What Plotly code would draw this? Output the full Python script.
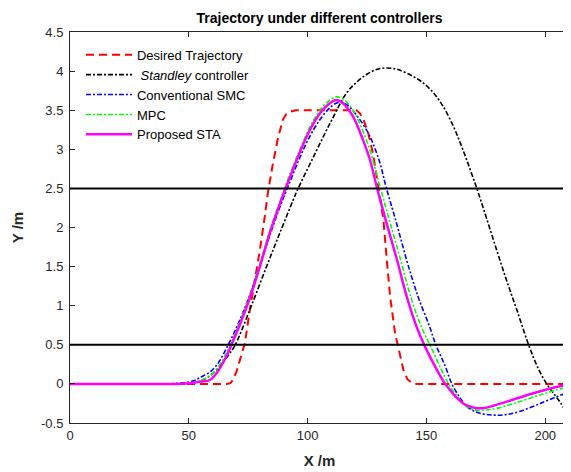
import plotly.graph_objects as go

# desired trajectory
x_ref = [0, 66, 67.5, 68.5, 70, 71.5, 73.6, 75.7, 77.8, 79.9, 82.0, 83.3, 85.4, 87.5, 89.6, 91, 92.5, 95,
         120.5, 122, 123.5, 125.4, 127.5, 129.2, 130.5, 131.9, 133.3, 134.7, 136.8, 138.2, 140.3, 142, 144, 146, 210]
y_ref = [0, 0, 0.01, 0.05, 0.15, 0.3, 0.52, 0.95, 1.32, 1.71, 2.15, 2.45, 2.82, 3.14, 3.38, 3.45, 3.48, 3.5,
         3.5, 3.46, 3.38, 3.22, 2.95, 2.6, 2.35, 2.1, 1.59, 1.12, 0.65, 0.45, 0.18, 0.06, 0.01, 0, 0]

# Standley controller
x_stan = [0, 48, 52, 56, 60, 64, 67, 69.4, 75.7, 82.7, 88.3, 93.9, 95.4, 102.4, 109.4, 116.4, 120.7, 125, 129,
          133.3, 138, 144.5, 149, 153, 157, 161.4, 164, 167, 171.2, 175.5, 180, 184, 188, 193, 197, 200.8,
          203.5, 206.4, 210]
y_stan = [0, 0, 0.01, 0.05, 0.13, 0.26, 0.38, 0.49, 0.95, 1.5, 1.93, 2.35, 2.46, 2.9, 3.33, 3.72, 3.86, 3.96, 4.02,
          4.04, 4.02, 3.93, 3.84, 3.72, 3.55, 3.29, 3.1, 2.86, 2.5, 2.1, 1.67, 1.3, 0.95, 0.5, 0.2, -0.01,
          -0.12, -0.24, -0.42]

# conventional SMC
x_smc = [0, 40, 44, 48, 52, 54.6, 58.8, 62, 66.6, 71.5, 75.7, 79.9, 84.1, 88.3, 92.5, 96.8, 101, 105.2, 109,
         112, 114, 117, 121, 125.3, 127.7, 130.5, 133, 137, 141.7, 144.5, 147, 151, 154.1, 158, 160.7, 164,
         167, 171, 175, 179.7, 184, 189.5, 197.9, 206.8, 210]
y_smc = [0, 0, 0.005, 0.015, 0.04, 0.08, 0.15, 0.25, 0.5, 0.82, 1.14, 1.52, 1.9, 2.26, 2.58, 2.9, 3.17, 3.38, 3.52,
         3.59, 3.6, 3.56, 3.42, 3.22, 3.06, 2.82, 2.52, 2.1, 1.58, 1.3, 1.07, 0.76, 0.49, 0.22, 0.0, -0.17,
         -0.29, -0.36, -0.39, -0.40, -0.39, -0.35, -0.25, -0.14, -0.11]

# MPC
x_mpc = [0, 44, 48, 52, 55, 58.8, 62, 65.9, 67.5, 71.5, 75.7, 79.9, 84.1, 88.3, 92.5, 96.8, 101, 105.2, 108.5,
         112, 115, 119.1, 123.3, 126.3, 130.5, 134.5, 139, 143.8, 148, 151.6, 156, 159.3, 162, 165.6, 169,
         172.6, 176, 180, 186.7, 197.9, 206.8, 210]
y_mpc = [0, 0, 0.005, 0.02, 0.045, 0.1, 0.2, 0.4, 0.5, 0.8, 1.14, 1.54, 1.96, 2.33, 2.68, 3.0, 3.29, 3.5, 3.61,
         3.67, 3.64, 3.5, 3.23, 2.98, 2.52, 2.08, 1.6, 1.07, 0.72, 0.49, 0.2, 0.0, -0.12, -0.26, -0.32,
         -0.34, -0.33, -0.31, -0.25, -0.14, -0.06, -0.04]

# proposed STA
x_sta = [0, 45, 49, 52, 55, 58.8, 62, 65.9, 67.5, 71.5, 75.7, 79.9, 84.1, 88.3, 92.5, 96.8, 101, 105.2, 108.5,
         112, 114.9, 119.1, 123.3, 126.3, 129.1, 133.3, 137.5, 141.7, 146, 149.5, 154.4, 157.9, 160, 162.8,
         166, 168.4, 171.2, 174, 178.1, 186.6, 195, 203.4, 210]
y_sta = [0, 0, 0.005, 0.015, 0.03, 0.05, 0.15, 0.36, 0.47, 0.76, 1.1, 1.5, 1.93, 2.3, 2.64, 2.97, 3.25, 3.46, 3.57,
         3.63, 3.59, 3.42, 3.12, 2.86, 2.52, 2.05, 1.6, 1.12, 0.72, 0.47, 0.18, 0.0, -0.08, -0.18,
         -0.26, -0.29, -0.31, -0.31, -0.28, -0.2, -0.12, -0.05, -0.01]

bounds = [0.5, 2.5]

x_ticks = [0, 50, 100, 150, 200]
y_ticks = [-0.5, 0, 0.5, 1, 1.5, 2, 2.5, 3, 3.5, 4, 4.5]
y_ticktext = ["-0.5", "0", "0.5", "1", "1.5", "2", "2.5", "3", "3.5", "4", "4.5"]

font = "Arial, Liberation Sans, sans-serif"
axcol = "#262626"

# the page body has an 8px margin, so the figure is sized to fit what is left of the window
W, H = 563, 464

fig = go.Figure()
fig.add_trace(go.Scatter(x=x_ref, y=y_ref, mode="lines", name="Desired Trajectory",
                         line=dict(color="#ff0000", width=2, dash="8px,5px")))
fig.add_trace(go.Scatter(x=x_stan, y=y_stan, mode="lines", name=" <i>Standley</i> controller",
                         line=dict(color="#000000", width=1.6, dash="5px,2px,2px,2px", shape="spline")))
fig.add_trace(go.Scatter(x=x_smc, y=y_smc, mode="lines", name="Conventional SMC",
                         line=dict(color="#0000ff", width=1.6, dash="5px,2px,2px,2px", shape="spline")))
fig.add_trace(go.Scatter(x=x_mpc, y=y_mpc, mode="lines", name="MPC",
                         line=dict(color="#00ff00", width=1.6, dash="5px,2px,2px,2px", shape="spline")))
fig.add_trace(go.Scatter(x=x_sta, y=y_sta, mode="lines", name="Proposed STA",
                         line=dict(color="#ff00ff", width=2.5, shape="spline")))

for b in bounds:
    fig.add_hline(y=b, line=dict(color="#000000", width=2))

fig.update_layout(
    width=W, height=H,
    margin=dict(l=62, r=2, t=24, b=49, autoexpand=False),
    plot_bgcolor="white", paper_bgcolor="white",
    font=dict(family=font, size=13, color=axcol),
    title=dict(text="<b>Trajectory under different controllers</b>", x=0.5, xref="paper",
               y=1 - 10 / H, yanchor="middle", font=dict(size=14, color="#000000")),
    legend=dict(x=0.022, y=0.98, xanchor="left", yanchor="top", bgcolor="rgba(0,0,0,0)",
                font=dict(size=13, color="#000000"), tracegroupgap=0, itemwidth=46),
)
fig.update_xaxes(range=[0, 210], tickvals=x_ticks, ticks="inside", ticklen=5, tickcolor=axcol,
                 showline=True, linecolor=axcol, linewidth=1, mirror="ticks", showgrid=False,
                 zeroline=False, automargin=False,
                 title=dict(text="<b>X /m</b>", font=dict(size=15), standoff=13))
fig.update_yaxes(range=[-0.5, 4.5], tickvals=y_ticks, ticktext=y_ticktext, ticks="inside", ticklen=5,
                 tickcolor=axcol, showline=True, linecolor=axcol, linewidth=1, mirror="ticks",
                 showgrid=False, zeroline=False, automargin=False, ticklabelstandoff=3,
                 title=dict(text="<b>Y /m</b>", font=dict(size=15), standoff=13))

fig.write_html("out.html")
